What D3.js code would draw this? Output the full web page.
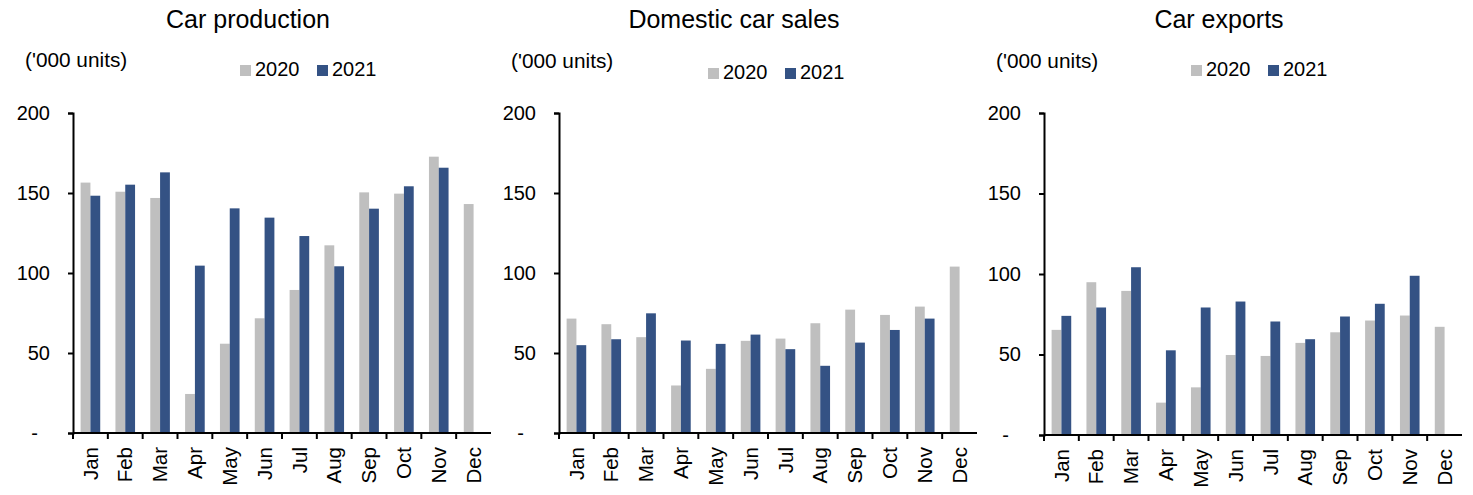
<!DOCTYPE html>
<html>
<head>
<meta charset="utf-8">
<script src="https://cdn.jsdelivr.net/npm/d3@7"></script>
<style>
  body { margin: 0; background: #fff; }
  svg text { font-family: "Liberation Sans", Arial, sans-serif; fill: #000; }
</style>
</head>
<body>
<svg id="chart" width="1473" height="495"></svg>
<script>
// data ('000 units)
var months = ["Jan","Feb","Mar","Apr","May","Jun","Jul","Aug","Sep","Oct","Nov","Dec"];
var years = ["2020", "2021"];
var yTicks = [0, 50, 100, 150, 200];

var production2020 = [156.5, 150.8, 146.9, 24.4, 55.8, 71.7, 89.4, 117.3, 150.4, 149.6, 172.7, 143.1];
var production2021 = [148.3, 155.2, 162.9, 104.6, 140.4, 134.6, 123.1, 104.2, 140.2, 154.2, 165.8, null];

var sales2020 = [71.5, 68.0, 59.9, 29.7, 40.1, 57.6, 59.0, 68.6, 77.1, 73.8, 79.0, 104.0];
var sales2021 = [54.9, 58.6, 74.8, 57.8, 55.7, 61.5, 52.4, 42.0, 56.5, 64.4, 71.5, null];

var exports2020 = [65.3, 94.9, 89.5, 20.1, 29.6, 49.7, 49.1, 57.2, 63.8, 71.1, 74.2, 67.2];
var exports2021 = [74.0, 79.2, 104.2, 52.6, 79.2, 82.9, 70.5, 59.5, 73.6, 81.5, 98.9, null];

var colors = {"2020": "#bfbfbf", "2021": "#345284"};

var svg = d3.select("#chart");

// one entry per small chart: where it sits and what it shows
var panels = [
  {title: "Car production", s2020: production2020, s2021: production2021,
   left: 73, bottom: 433, titleX: 248, unitsX: 25, unitsY: 67, legendX: 240, legendY: 76},
  {title: "Domestic car sales", s2020: sales2020, s2021: sales2021,
   left: 559, bottom: 433, titleX: 734, unitsX: 511, unitsY: 68, legendX: 708, legendY: 79},
  {title: "Car exports", s2020: exports2020, s2021: exports2021,
   left: 1044, bottom: 435, titleX: 1219, unitsX: 996, unitsY: 68, legendX: 1191, legendY: 76}
];

panels.forEach(function(p){
  var width = 418;
  var top = 113;

  var x = d3.scaleBand().domain(months).range([p.left, p.left + width])
            .paddingInner(0.437).paddingOuter(0.2185);
  var x1 = d3.scaleBand().domain(years).range([0, x.bandwidth()]);
  var y = d3.scaleLinear().domain([0, 200]).range([p.bottom, top]);

  var g = svg.append("g");

  // bars
  var rows = months.map(function(m, i){
    return {month: m, vals: [{year: "2020", v: p.s2020[i]}, {year: "2021", v: p.s2021[i]}]};
  });
  g.selectAll("g.month")
   .data(rows)
   .enter().append("g")
   .attr("transform", d => "translate(" + x(d.month) + ",0)")
   .selectAll("rect")
   .data(d => d.vals.filter(e => e.v != null))
   .enter().append("rect")
   .attr("x", d => x1(d.year))
   .attr("width", x1.bandwidth())
   .attr("y", d => y(d.v))
   .attr("height", d => y(0) - y(d.v))
   .attr("fill", d => colors[d.year]);

  // y axis
  var yAxis = d3.axisLeft(y).tickValues(yTicks).tickSize(5).tickPadding(18)
                .tickFormat(d => d == 0 ? "-" : d);
  var ya = g.append("g").attr("transform", "translate(" + p.left + ",0)").call(yAxis);
  ya.select(".domain").attr("stroke", "#000").attr("stroke-width", 2);
  ya.selectAll(".tick line").attr("stroke", "#000").attr("stroke-width", 2);
  ya.selectAll(".tick text").style("font-size", "20px").attr("fill", "#000");
  ya.selectAll(".tick text").filter(d => d == 0).attr("dx", "-12");

  // x axis, ticks at the band edges
  var xa = g.append("g").attr("transform", "translate(0," + p.bottom + ")");
  xa.append("line").attr("x1", p.left).attr("x2", p.left + width)
    .attr("stroke", "#000").attr("stroke-width", 2);
  xa.selectAll("line.tk")
    .data(months)
    .enter().append("line")
    .attr("class", "tk")
    .attr("x1", d => x(d) - x.step() * x.paddingInner() / 2)
    .attr("x2", d => x(d) - x.step() * x.paddingInner() / 2)
    .attr("y1", 0).attr("y2", 6)
    .attr("stroke", "#000").attr("stroke-width", 2);
  xa.selectAll("text")
    .data(months)
    .enter().append("text")
    .attr("transform", d => "translate(" + (x(d) + x.bandwidth() / 2) + ",14) rotate(-90)")
    .attr("text-anchor", "end")
    .attr("dy", "0.35em")
    .style("font-size", "20.5px")
    .text(d => d);

  // title, units, legend
  g.append("text").attr("x", p.titleX).attr("y", 28)
   .attr("text-anchor", "middle").style("font-size", "25px").text(p.title);
  g.append("text").attr("x", p.unitsX).attr("y", p.unitsY)
   .style("font-size", "20.8px").text("('000 units)");

  var lg = g.append("g").attr("transform", "translate(" + p.legendX + "," + p.legendY + ")");
  years.forEach(function(yr, i){
    lg.append("rect").attr("x", i * 77).attr("y", -11).attr("width", 11).attr("height", 11)
      .attr("fill", colors[yr]);
    lg.append("text").attr("x", i * 77 + 15).attr("y", 0)
      .style("font-size", "20px").text(yr);
  });
});
</script>
</body>
</html>
